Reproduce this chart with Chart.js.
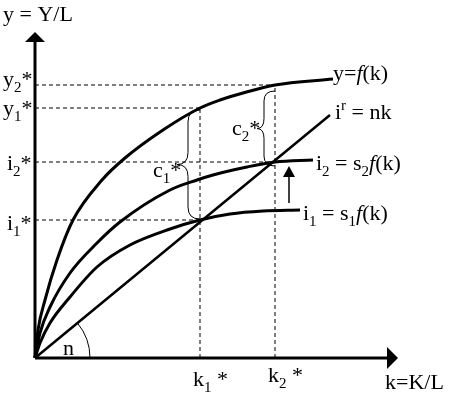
<!DOCTYPE html>
<html>
<head>
<meta charset="utf-8">
<script src="https://cdn.jsdelivr.net/npm/chart.js@4"></script>
<style>
  html, body { margin: 0; padding: 0; background: #fff; }
  #wrap { width: 459px; height: 415px; }
  #warm { position: absolute; left: -999px; font: 22px "Liberation Serif"; }
</style>
</head>
<body>
<div id="warm">y = Y/L <i>f</i></div>
<div id="wrap"><canvas id="solow" width="459" height="415"></canvas></div>
<script>
  // readings, in plot units (k across, y up)
  var fK = [0, 3, 10, 22, 38, 67, 90, 128, 165, 185, 208, 240, 298];
  var fY = [0, 28, 58, 98, 138, 178, 200, 228, 250, 258, 265, 273, 279];

  var i2K = [0, 5, 15, 35, 62, 85, 135, 162, 178, 212, 240, 278];
  var i2Y = [0, 25, 51, 85, 115, 136, 168, 178, 183, 191, 196, 198];

  var i1K = [0, 5, 15, 35, 62, 95, 135, 165, 195, 228, 265];
  var i1Y = [0, 15, 35, 61, 91, 113, 129, 138, 144, 147, 148];

  var nkK = [0, 295];
  var nkY = [0, 243];

  var kStar = [165, 240]; // k1*, k2*
  var yStar = [250, 273]; // y1*, y2*
  var iStar = [138, 196]; // i1*, i2*

  var kMax = 364;
  var yMax = 326;

  var FONT = "'Liberation Serif', 'Times New Roman', serif";

  function pts(ks, ys) {
    return ks.map(function (k, i) { return { x: k, y: ys[i] }; });
  }

  function solid(data, width) {
    return {
      data: data,
      showLine: true,
      borderColor: "#000",
      borderWidth: width,
      pointRadius: 0,
      cubicInterpolationMode: "monotone",
      clip: false
    };
  }

  function dashed(data) {
    return {
      data: data,
      showLine: true,
      borderColor: "#000",
      borderWidth: 1,
      borderDash: [4, 3],
      pointRadius: 0,
      clip: false
    };
  }

  // text with sub/superscripts and italic pieces
  function rich(ctx, x, y, parts) {
    parts.forEach(function (p) {
      var size = 22, dy = 0, style = "";
      if (p[1] === "sub") { size = 15; dy = 6; }
      if (p[1] === "sup") { size = 15; dy = -9; }
      if (p[1] === "it") style = "italic ";
      ctx.font = style + size + "px " + FONT;
      ctx.fillText(p[0], x, y + dy);
      x += ctx.measureText(p[0]).width;
    });
  }

  function brace(ctx, xEnd, xMid, xTip, yTop, yBot, r) {
    var yc = (yTop + yBot) / 2;
    ctx.beginPath();
    ctx.moveTo(xEnd, yTop);
    ctx.quadraticCurveTo(xMid, yTop, xMid, yTop + r);
    ctx.lineTo(xMid, yc - r);
    ctx.quadraticCurveTo(xMid, yc, xTip, yc);
    ctx.quadraticCurveTo(xMid, yc, xMid, yc + r);
    ctx.lineTo(xMid, yBot - r);
    ctx.quadraticCurveTo(xMid, yBot, xEnd, yBot);
    ctx.stroke();
  }

  var annotations = {
    id: "annotations",
    afterDatasetsDraw: function (chart) {
      var ctx = chart.ctx;
      var px = function (v) { return chart.scales.x.getPixelForValue(v); };
      var py = function (v) { return chart.scales.y.getPixelForValue(v); };
      ctx.save();
      ctx.fillStyle = "#000";
      ctx.strokeStyle = "#000";

      // axis arrow heads
      ctx.beginPath();
      ctx.moveTo(px(0), py(yMax));
      ctx.lineTo(px(0) - 10, py(yMax) + 10);
      ctx.lineTo(px(0) + 10, py(yMax) + 10);
      ctx.closePath();
      ctx.fill();
      ctx.beginPath();
      ctx.moveTo(px(kMax - 1), py(0));
      ctx.lineTo(px(kMax - 1) - 11, py(0) - 11);
      ctx.lineTo(px(kMax - 1) - 11, py(0) + 11);
      ctx.closePath();
      ctx.fill();

      // arrow from i1 up to i2
      var ak = kStar[1] + 14;
      ctx.lineWidth = 1.5;
      ctx.beginPath();
      ctx.moveTo(px(ak), py(iStar[0] + 17));
      ctx.lineTo(px(ak), py(iStar[1] - 12));
      ctx.stroke();
      ctx.beginPath();
      ctx.moveTo(px(ak), py(iStar[1] - 4));
      ctx.lineTo(px(ak) - 6, py(iStar[1] - 15));
      ctx.lineTo(px(ak) + 6, py(iStar[1] - 15));
      ctx.closePath();
      ctx.fill();

      // consumption braces
      ctx.lineWidth = 1;
      brace(ctx, px(kStar[0]), px(kStar[0]) - 12, px(kStar[0]) - 23, py(yStar[0]) + 2, py(iStar[0]) - 1, 12);
      brace(ctx, px(kStar[1]), px(kStar[1]) - 11, px(kStar[1]) - 18, py(yStar[1]) + 6, py(iStar[1]) + 4, 10);

      // angle n
      var ang = Math.atan2(nkY[1], nkK[1]);
      ctx.beginPath();
      ctx.arc(px(0), py(0), 55, -ang, 0);
      ctx.stroke();

      ctx.textBaseline = "alphabetic";
      ctx.textAlign = "left";
      rich(ctx, 3, 21, [["y = Y/L"]]);
      rich(ctx, 3, py(yStar[1]) + 1, [["y"], ["2", "sub"], ["*"]]);
      rich(ctx, 3, py(yStar[0]) + 7, [["y"], ["1", "sub"], ["*"]]);
      rich(ctx, 7, py(iStar[1]) + 8, [["i"], ["2", "sub"], ["*"]]);
      rich(ctx, 7, py(iStar[0]) + 10, [["i"], ["1", "sub"], ["*"]]);

      rich(ctx, px(kStar[0]) - 7, py(0) + 28, [["k"], ["1", "sub"], [" *"]]);
      rich(ctx, px(kStar[1]) - 7, py(0) + 24, [["k"], ["2", "sub"], [" *"]]);
      rich(ctx, 385, py(0) + 31, [["k=K/L"]]);
      rich(ctx, 63, py(0) - 3, [["n"]]);

      rich(ctx, px(fK[fK.length - 1]), py(fY[fY.length - 1]) + 1, [["y="], ["f", "it"], ["(k)"]]);
      rich(ctx, px(nkK[1]) + 5, py(nkY[1]) + 4, [["i"], ["r", "sup"], [" = nk"]]);
      rich(ctx, px(i2K[i2K.length - 1]) + 3, py(i2Y[i2Y.length - 1]) + 10, [["i"], ["2", "sub"], [" = s"], ["2", "sub"], ["f", "it"], ["(k)"]]);
      rich(ctx, px(i1K[i1K.length - 1]) + 3, py(i1Y[i1Y.length - 1]) + 10, [["i"], ["1", "sub"], [" = s"], ["1", "sub"], ["f", "it"], ["(k)"]]);

      rich(ctx, 153, py(iStar[1]) + 15, [["c"], ["1", "sub"], ["*"]]);
      rich(ctx, 232, py(yStar[1]) + 50, [["c"], ["2", "sub"], ["*"]]);
      ctx.restore();
    }
  };

  function draw() {
    new Chart(document.getElementById("solow"), {
      type: "scatter",
      data: {
        datasets: [
          // guide lines
          dashed([{ x: 0, y: yStar[1] }, { x: kStar[1], y: yStar[1] }]),
          dashed([{ x: 0, y: yStar[0] }, { x: kStar[0], y: yStar[0] }]),
          dashed([{ x: 0, y: iStar[1] }, { x: kStar[1], y: iStar[1] }]),
          dashed([{ x: 0, y: iStar[0] }, { x: kStar[0], y: iStar[0] }]),
          dashed([{ x: kStar[0], y: 0 }, { x: kStar[0], y: yStar[0] }]),
          dashed([{ x: kStar[1], y: 0 }, { x: kStar[1], y: yStar[1] }]),
          // curves
          solid(pts(fK, fY), 3),
          solid(pts(i2K, i2Y), 3),
          solid(pts(i1K, i1Y), 3),
          solid(pts(nkK, nkY), 2.5),
          // axes
          solid([{ x: 0, y: 0 }, { x: kMax - 11, y: 0 }], 3),
          solid([{ x: 0, y: 0 }, { x: 0, y: yMax - 10 }], 3)
        ]
      },
      options: {
        responsive: false,
        animation: false,
        layout: { padding: { left: 35, right: 60, top: 32, bottom: 57 } },
        scales: {
          x: { type: "linear", min: 0, max: kMax, display: false },
          y: { type: "linear", min: 0, max: yMax, display: false }
        },
        plugins: {
          legend: { display: false },
          tooltip: { enabled: false }
        }
      },
      plugins: [annotations]
    });
  }

  if (document.fonts && document.fonts.load) {
    Promise.all([
      document.fonts.load("22px 'Liberation Serif'"),
      document.fonts.load("italic 22px 'Liberation Serif'")
    ]).then(draw, draw);
  } else {
    draw();
  }
</script>
</body>
</html>
